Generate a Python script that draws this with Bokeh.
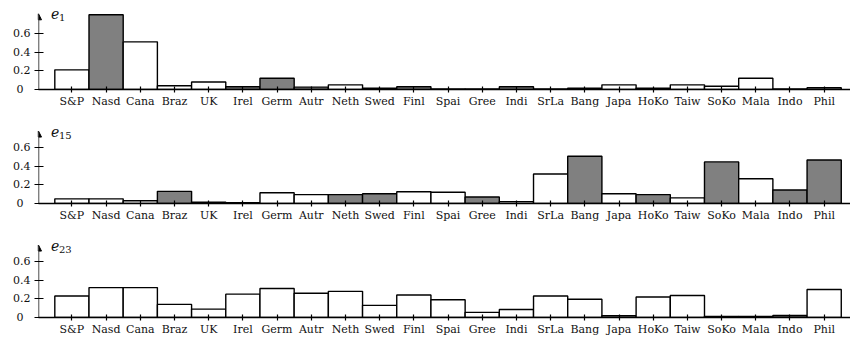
from bokeh.plotting import figure
from bokeh.models import Range1d, FixedTicker, Label, Arrow, NormalHead, ColumnDataSource
from bokeh.layouts import column
from bokeh.embed import file_html
from bokeh.resources import INLINE

# Market indices (23 assets)
markets = ["S&P", "Nasd", "Cana", "Braz", "UK", "Irel", "Germ", "Autr", "Neth",
           "Swed", "Finl", "Spai", "Gree", "Indi", "SrLa", "Bang", "Japa", "HoKo",
           "Taiw", "SoKo", "Mala", "Indo", "Phil"]

# Eigenvector components; bar height is |value|, negative entries are shaded grey
e1 = [0.21, -0.80, 0.51, 0.04, 0.08, -0.03, -0.12, -0.025, 0.05, -0.015, -0.03,
      0.005, 0.005, -0.03, 0.005, -0.015, 0.05, -0.015, 0.05, 0.035, 0.12, 0.005, -0.02]
e15 = [0.05, 0.05, 0.03, -0.13, -0.015, 0.008, 0.115, 0.095, -0.095, -0.105, 0.125,
       0.12, -0.07, 0.02, 0.315, -0.505, 0.105, -0.095, 0.06, -0.445, 0.265, -0.145, -0.465]
e23 = [0.23, 0.32, 0.32, 0.14, 0.09, 0.25, 0.31, 0.26, 0.28, 0.13, 0.24, 0.19,
       0.055, 0.085, 0.23, 0.195, -0.02, 0.22, 0.235, -0.012, -0.012, -0.022, 0.30]

panels = [("1", e1, 0.81), ("15", e15, 0.775), ("23", e23, 0.775)]
y_ticks = [0, 0.2, 0.4, 0.6]
# the figure space after "0" keeps the zero roughly centred under "0.6"
y_tick_labels = ["0\u2007", "0.2", "0.4", "0.6"]

FONT = "DejaVu Serif"
W = 850
LEFT = 38
TOP = 9
FRAME_H = 80
X0, X1 = -0.977, 22.77
Y0, Y1 = 0.0, 0.856
SX = (W - LEFT) / (X1 - X0)   # px per x unit
SY = FRAME_H / (Y1 - Y0)      # px per y unit


def make_panel(sub, vals, axis_top, height):
    bottom = height - TOP - FRAME_H
    p = figure(width=W, height=height, output_backend="svg", toolbar_location=None,
               x_range=Range1d(X0, X1), y_range=Range1d(Y0, Y1),
               min_border_left=LEFT, min_border_right=0,
               min_border_top=TOP, min_border_bottom=bottom)
    p.outline_line_color = None
    p.xgrid.visible = False
    p.ygrid.visible = False

    src = ColumnDataSource(dict(
        x=list(range(len(markets))),
        h=[abs(v) for v in vals],
        c=["#808080" if v < 0 else "white" for v in vals],
    ))
    p.vbar(x="x", top="h", width=1.0, bottom=0, source=src,
           fill_color="c", line_color="black", line_width=1.4)

    xa = p.xaxis[0]
    xa.ticker = FixedTicker(ticks=list(range(len(markets))))
    xa.major_label_overrides = {i: m for i, m in enumerate(markets)}
    xa.axis_line_width = 1.4
    xa.major_tick_line_width = 1.2
    xa.major_tick_in = 3
    xa.major_tick_out = 3
    xa.minor_tick_line_color = None
    xa.major_label_standoff = 2
    xa.major_label_text_font = FONT
    xa.major_label_text_font_size = "11px"
    xa.major_label_text_color = "#111111"

    ya = p.yaxis[0]
    ya.ticker = FixedTicker(ticks=y_ticks)
    ya.major_label_overrides = {t: s for t, s in zip(y_ticks, y_tick_labels)}
    ya.axis_line_color = None
    ya.major_tick_line_width = 1.2
    ya.major_tick_in = 5
    ya.major_tick_out = 4
    ya.minor_tick_line_color = None
    ya.major_label_standoff = 4
    ya.major_label_text_font = FONT
    ya.major_label_text_font_size = "11px"
    ya.major_label_text_color = "#111111"

    # y axis line with arrow head
    p.add_layout(Arrow(x_start=X0, y_start=0, x_end=X0, y_end=axis_top,
                       line_width=1.4, line_color="black",
                       end=NormalHead(size=6, fill_color="black", line_color="black")))

    # panel title e_k
    ex = X0 + 12.5 / SX
    ey = axis_top
    p.add_layout(Label(x=ex, y=ey, text="e", text_font=FONT, text_font_style="italic",
                       text_font_size="14px", text_color="#111111",
                       text_align="left", text_baseline="middle"))
    p.add_layout(Label(x=ex + 8.0 / SX, y=ey - 4.0 / SY, text=sub, text_font=FONT,
                       text_font_size="10px", text_color="#111111",
                       text_align="left", text_baseline="middle"))
    return p


heights = [114, 114, 110]
figs = [make_panel(s, v, top, h) for (s, v, top), h in zip(panels, heights)]
layout = column(*figs, spacing=0)

open("out.html", "w").write(file_html(layout, INLINE))
